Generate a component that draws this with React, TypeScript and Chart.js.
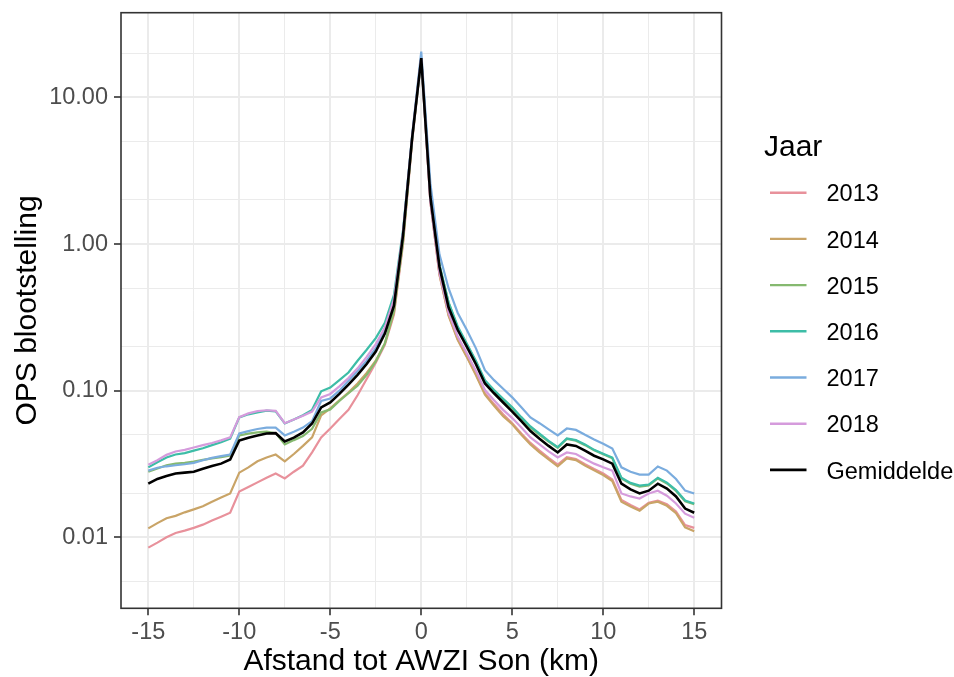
import React, { useEffect, useRef } from 'react';
import { Chart, registerables } from 'chart.js';

Chart.register(...registerables);

// ---- data ----
const distances = [
  -15, -14.5, -14, -13.5, -13, -12.5, -12, -11.5, -11, -10.5,
  -10, -9.5, -9, -8.5, -8, -7.5, -7, -6.5, -6, -5.5,
  -5, -4.5, -4, -3.5, -3, -2.5, -2, -1.5, -1, -0.5,
  0,
  0.5, 1, 1.5, 2, 2.5, 3, 3.5, 4, 4.5, 5,
  5.5, 6, 6.5, 7, 7.5, 8, 8.5, 9, 9.5, 10,
  10.5, 11, 11.5, 12, 12.5, 13, 13.5, 14, 14.5, 15,
];

const y2013 = [
  0.0085, 0.0092, 0.0100, 0.0107, 0.0111, 0.0116, 0.0122, 0.0130, 0.0138, 0.0147,
  0.0205, 0.0220, 0.0237, 0.0255, 0.0272, 0.0252, 0.0280, 0.0308, 0.0380, 0.0480,
  0.0552, 0.0640, 0.0740, 0.0930, 0.120, 0.155, 0.205, 0.33, 1.00, 5.0,
  18.5,
  1.95, 0.62, 0.33, 0.225, 0.172, 0.130, 0.096, 0.081, 0.069, 0.060,
  0.051, 0.044, 0.039, 0.0348, 0.0313, 0.0352, 0.0342, 0.0315, 0.0292, 0.0272,
  0.0248, 0.0180, 0.0166, 0.0155, 0.0172, 0.0178, 0.0168, 0.0150, 0.0121, 0.0116,
];

const y2014 = [
  0.0115, 0.0125, 0.0135, 0.0140, 0.0148, 0.0155, 0.0163, 0.0175, 0.0187, 0.0199,
  0.0276, 0.0300, 0.0330, 0.0350, 0.0367, 0.0329, 0.0370, 0.0420, 0.0480, 0.0678,
  0.0757, 0.086, 0.097, 0.112, 0.132, 0.160, 0.210, 0.34, 1.05, 5.2,
  18.5,
  1.95, 0.62, 0.325, 0.222, 0.170, 0.128, 0.094, 0.079, 0.067, 0.059,
  0.050, 0.043, 0.038, 0.0340, 0.0305, 0.0345, 0.0336, 0.0308, 0.0286, 0.0266,
  0.0242, 0.0175, 0.0162, 0.0152, 0.0170, 0.0175, 0.0164, 0.0146, 0.0117, 0.0110,
];

const y2015 = [
  0.0280, 0.0295, 0.0310, 0.0318, 0.0322, 0.0328, 0.0337, 0.0345, 0.0352, 0.0361,
  0.0495, 0.0510, 0.0520, 0.0525, 0.0513, 0.0430, 0.0460, 0.0490, 0.0550, 0.0710,
  0.0745, 0.085, 0.096, 0.108, 0.128, 0.158, 0.210, 0.35, 1.05, 5.2,
  18.5,
  2.2, 0.72, 0.40, 0.270, 0.207, 0.158, 0.116, 0.100, 0.087, 0.076,
  0.065, 0.056, 0.050, 0.0450, 0.0408, 0.0468, 0.0456, 0.0425, 0.0392, 0.0368,
  0.0346, 0.0252, 0.0232, 0.0222, 0.0226, 0.0252, 0.0233, 0.0207, 0.0176, 0.0168,
];

const y2016 = [
  0.0300, 0.0325, 0.0350, 0.0367, 0.0375, 0.0390, 0.0405, 0.0425, 0.0445, 0.0470,
  0.0657, 0.0690, 0.0710, 0.0730, 0.0722, 0.0597, 0.0635, 0.0680, 0.0740, 0.0990,
  0.105, 0.118, 0.133, 0.160, 0.190, 0.228, 0.290, 0.45, 1.25, 5.4,
  18.5,
  2.2, 0.72, 0.40, 0.275, 0.210, 0.160, 0.118, 0.101, 0.088, 0.077,
  0.066, 0.057, 0.051, 0.0455, 0.0412, 0.0472, 0.0460, 0.0430, 0.0395, 0.0372,
  0.0350, 0.0255, 0.0235, 0.0225, 0.0229, 0.0255, 0.0236, 0.0210, 0.0178, 0.0170,
];

const y2017 = [
  0.0285, 0.0298, 0.0305, 0.0310, 0.0315, 0.0322, 0.0335, 0.0348, 0.0358, 0.0367,
  0.0510, 0.0530, 0.0548, 0.0560, 0.0560, 0.0495, 0.0525, 0.0560, 0.0620, 0.0850,
  0.0885, 0.100, 0.117, 0.136, 0.160, 0.195, 0.255, 0.40, 1.20, 5.5,
  20.5,
  2.6, 0.85, 0.50, 0.340, 0.260, 0.195, 0.138, 0.118, 0.103, 0.090,
  0.077, 0.0657, 0.060, 0.0545, 0.0495, 0.0552, 0.0540, 0.0500, 0.0465, 0.0435,
  0.0403, 0.0300, 0.0280, 0.0268, 0.0268, 0.0304, 0.0285, 0.0250, 0.0208, 0.0199,
];

const y2018 = [
  0.0313, 0.0335, 0.0365, 0.0385, 0.0395, 0.0410, 0.0425, 0.0440, 0.0458, 0.0480,
  0.0660, 0.0700, 0.0725, 0.0735, 0.0728, 0.0600, 0.0635, 0.0675, 0.0720, 0.0900,
  0.0950, 0.107, 0.122, 0.142, 0.170, 0.208, 0.270, 0.42, 1.20, 5.4,
  18.5,
  1.95, 0.64, 0.34, 0.235, 0.180, 0.137, 0.101, 0.086, 0.074, 0.065,
  0.056, 0.048, 0.043, 0.0385, 0.0350, 0.0379, 0.0370, 0.0342, 0.0318, 0.0300,
  0.0285, 0.0199, 0.0190, 0.0184, 0.0199, 0.0208, 0.0192, 0.0170, 0.0145, 0.0136,
];

const yMean = [
  0.0232, 0.0250, 0.0262, 0.0272, 0.0276, 0.0280, 0.0293, 0.0306, 0.0318, 0.0339,
  0.0457, 0.0478, 0.0495, 0.0510, 0.0513, 0.0450, 0.0478, 0.0519, 0.0597, 0.0769,
  0.0832, 0.0950, 0.110, 0.128, 0.152, 0.185, 0.245, 0.38, 1.15, 5.3,
  18.5,
  2.1, 0.70, 0.37, 0.260, 0.200, 0.152, 0.112, 0.096, 0.083, 0.072,
  0.062, 0.053, 0.047, 0.0420, 0.0379, 0.0430, 0.0420, 0.0390, 0.0360, 0.0340,
  0.0318, 0.0232, 0.0212, 0.0199, 0.0208, 0.0232, 0.0215, 0.0190, 0.0157, 0.0147,
];

const seriesNames = ['2013', '2014', '2015', '2016', '2017', '2018', 'Gemiddelde'];
const seriesValues = [y2013, y2014, y2015, y2016, y2017, y2018, yMean];
const seriesColors = ['#E8919B', '#C9A467', '#85B96F', '#3DBDA7', '#7AACDE', '#D59BDC', '#000000'];

const legendTitle = 'Jaar';
const xTitle = 'Afstand tot AWZI Son (km)';
const yTitle = 'OPS blootstelling';

const xMajorTicks = [-15, -10, -5, 0, 5, 10, 15];
const xMinorTicks = [-12.5, -7.5, -2.5, 2.5, 7.5, 12.5];
const yMajorTicks = [0.01, 0.1, 1, 10];
const yTickLabels = ['0.01', '0.10', '1.00', '10.00'];
const yMinorTicks = [0.005, 0.02, 0.05, 0.2, 0.5, 2, 5, 20];

const FONT = '"Liberation Sans", Arial, Helvetica, sans-serif';
const TICK_SIZE = 23.5;
const TITLE_SIZE = 30;

const isMajorX = (v: number) => xMajorTicks.some((t) => Math.abs(t - v) < 1e-9);
const isMajorY = (v: number) => yMajorTicks.some((t) => Math.abs(t - v) / t < 1e-6);

const framePlugin = {
  id: 'ggFrame',
  afterDatasetsDraw(chart: any) {
    const { ctx, chartArea } = chart;
    ctx.save();
    ctx.strokeStyle = '#333333';
    ctx.lineWidth = 1.6;
    ctx.strokeRect(chartArea.left, chartArea.top, chartArea.right - chartArea.left, chartArea.bottom - chartArea.top);
    ctx.restore();
  },
};

const legendPlugin = {
  id: 'ggLegend',
  afterDraw(chart: any) {
    const ctx = chart.ctx;
    ctx.save();
    ctx.textAlign = 'left';
    ctx.textBaseline = 'alphabetic';
    ctx.fillStyle = '#000000';
    ctx.font = `${TITLE_SIZE}px ${FONT}`;
    ctx.fillText(legendTitle, 764, 155.5);
    ctx.font = `${TICK_SIZE}px ${FONT}`;
    seriesNames.forEach((name, i) => {
      const y = 192.7 + i * 46.2;
      ctx.strokeStyle = seriesColors[i];
      ctx.lineWidth = i === 6 ? 2.6 : 2.4;
      ctx.beginPath();
      ctx.moveTo(770, y);
      ctx.lineTo(806.5, y);
      ctx.stroke();
      ctx.fillStyle = '#000000';
      ctx.fillText(name, 826.5, y + 8.6);
    });
    ctx.restore();
  },
};

export default function App() {
  const canvasRef = useRef<HTMLCanvasElement | null>(null);

  useEffect(() => {
    const canvas = canvasRef.current;
    if (!canvas) return;
    const datasets = seriesNames.map((name, i) => ({
      label: name,
      data: distances.map((d, j) => ({ x: d, y: seriesValues[i][j] })),
      borderColor: seriesColors[i],
      backgroundColor: seriesColors[i],
      borderWidth: i === 6 ? 2.6 : 2.2,
      pointRadius: 0,
      tension: 0,
      fill: false,
      order: seriesNames.length - 1 - i,
    }));

    const chart = new Chart(canvas, {
      type: 'line',
      data: { datasets },
      options: {
        animation: false,
        responsive: false,
        maintainAspectRatio: false,
        devicePixelRatio: 1,
        layout: { padding: { left: 0, top: 12.7, right: 232.5, bottom: 0 } },
        plugins: {
          legend: { display: false },
          tooltip: { enabled: false },
          title: { display: false },
        },
        scales: {
          x: {
            type: 'linear',
            min: -16.5,
            max: 16.5,
            bounds: 'data',
            afterFit: (scale: any) => {
              scale.height = 68.7;
              scale.paddingLeft = 0;
              scale.paddingRight = 0;
            },
            afterBuildTicks: (scale: any) => {
              scale.ticks = [...xMajorTicks, ...xMinorTicks]
                .sort((a, b) => a - b)
                .map((v) => ({ value: v }));
            },
            border: { display: false },
            grid: {
              color: '#EBEBEB',
              lineWidth: (c: any) => (c.tick && isMajorX(c.tick.value) ? 2 : 1),
              tickLength: 7,
              tickWidth: 1.6,
              tickColor: (c: any) => (c.tick && isMajorX(c.tick.value) ? '#333333' : 'rgba(0,0,0,0)'),
            },
            ticks: {
              autoSkip: false,
              maxRotation: 0,
              minRotation: 0,
              padding: 4,
              color: '#4D4D4D',
              font: { family: FONT, size: TICK_SIZE, lineHeight: 1.15 },
              callback: (v: any) => (isMajorX(Number(v)) ? String(v) : ''),
            },
            title: {
              display: true,
              text: xTitle,
              color: '#000000',
              font: { family: FONT, size: TITLE_SIZE, lineHeight: 1.0 },
              padding: { top: 0, bottom: 0 },
            },
          },
          y: {
            type: 'logarithmic',
            min: 0.00328,
            max: 37.8,
            bounds: 'data',
            afterFit: (scale: any) => {
              scale.width = 121;
              scale.paddingTop = 0;
              scale.paddingBottom = 0;
            },
            afterBuildTicks: (scale: any) => {
              scale.ticks = [...yMajorTicks, ...yMinorTicks]
                .sort((a, b) => a - b)
                .map((v) => ({ value: v }));
            },
            border: { display: false },
            grid: {
              color: '#EBEBEB',
              lineWidth: (c: any) => (c.tick && isMajorY(c.tick.value) ? 2 : 1),
              tickLength: 7,
              tickWidth: 1.6,
              tickColor: (c: any) => (c.tick && isMajorY(c.tick.value) ? '#333333' : 'rgba(0,0,0,0)'),
            },
            ticks: {
              autoSkip: false,
              padding: 6,
              color: '#4D4D4D',
              font: { family: FONT, size: TICK_SIZE },
              callback: (v: any) => {
                const idx = yMajorTicks.findIndex((t) => Math.abs(t - Number(v)) / t < 1e-6);
                return idx >= 0 ? yTickLabels[idx] : '';
              },
            },
            title: {
              display: true,
              text: yTitle,
              color: '#000000',
              font: { family: FONT, size: TITLE_SIZE, lineHeight: 1.0 },
              padding: { top: 13, bottom: 0 },
            },
          },
        },
      },
      plugins: [framePlugin, legendPlugin],
    } as any);

    return () => {
      chart.destroy();
    };
  }, []);

  return (
    <div style={{ position: 'fixed', left: 0, top: 0, width: 954, height: 677, background: '#ffffff' }}>
      <canvas ref={canvasRef} width={954} height={677} style={{ width: 954, height: 677, display: 'block' }} />
    </div>
  );
}
